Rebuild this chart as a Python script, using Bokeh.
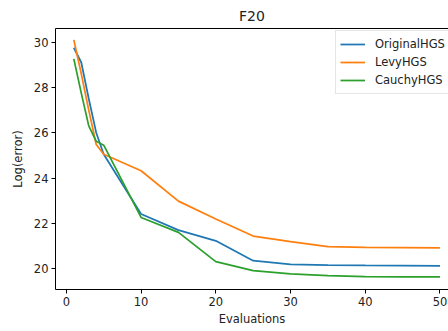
from bokeh.plotting import figure
from bokeh.models import LinearAxis, Range1d, FixedTicker, Legend, LegendItem
from bokeh.embed import file_html
from bokeh.resources import INLINE

# Convergence of the three HGS variants on F20
evaluations = [1, 2, 3, 4, 5, 10, 15, 20, 25, 30, 35, 40, 45, 50]
original_hgs = [29.75, 29.1, 27.5, 26.0, 25.05, 22.41, 21.70, 21.23, 20.35, 20.19, 20.16, 20.14, 20.13, 20.12]
levy_hgs = [30.1, 28.6, 27.0, 25.48, 25.05, 24.32, 22.98, 22.19, 21.44, 21.19, 20.97, 20.94, 20.93, 20.92]
cauchy_hgs = [29.26, 27.75, 26.3, 25.62, 25.45, 22.26, 21.60, 20.31, 19.91, 19.77, 19.69, 19.65, 19.64, 19.64]

x_ticks = [0, 10, 20, 30, 40, 50]
y_ticks = [20, 22, 24, 26, 28, 30]

FONT = "DejaVu Sans"
TEXT = "#222222"

p = figure(width=448, height=331, output_backend="svg", toolbar_location=None,
           x_range=Range1d(-1.45, 51.14), y_range=Range1d(19.08, 30.6),
           min_border_left=55, min_border_right=0, min_border_top=28, min_border_bottom=42,
           title="F20")
p.title.align = "center"
p.title.text_font = FONT
p.title.text_font_size = "14px"
p.title.text_font_style = "normal"
p.title.text_color = TEXT
p.title.offset = 3
p.outline_line_color = None
p.grid.visible = False
p.background_fill_color = "white"
p.border_fill_color = "white"

for ax in (p.xaxis[0], p.yaxis[0]):
    ax.axis_line_color = "black"
    ax.axis_line_width = 1
    ax.major_tick_out = 4
    ax.major_tick_in = 0
    ax.minor_tick_line_color = None
    ax.major_label_text_font = FONT
    ax.major_label_text_font_size = "11.5px"
    ax.major_label_text_color = TEXT
    ax.axis_label_text_font = FONT
    ax.axis_label_text_font_size = "11.5px"
    ax.axis_label_text_font_style = "normal"
    ax.axis_label_text_color = TEXT
    ax.major_label_standoff = 3

p.xaxis[0].ticker = FixedTicker(ticks=x_ticks)
p.yaxis[0].ticker = FixedTicker(ticks=y_ticks)
p.xaxis[0].axis_label = "Evaluations"
p.yaxis[0].axis_label = "Log(error)"
p.xaxis[0].axis_label_standoff = 3
p.yaxis[0].axis_label_standoff = 6

# top spine
top = LinearAxis(ticker=FixedTicker(ticks=[]), axis_line_color="black",
                 major_tick_line_color=None, minor_tick_line_color=None,
                 major_label_text_font_size="0px")
p.add_layout(top, "above")

r1 = p.line(evaluations, original_hgs, line_color="#1f77b4", line_width=1.75)
r2 = p.line(evaluations, levy_hgs, line_color="#ff7f0e", line_width=1.75)
r3 = p.line(evaluations, cauchy_hgs, line_color="#2ca02c", line_width=1.75)

legend = Legend(items=[LegendItem(label="OriginalHGS", renderers=[r1]),
                       LegendItem(label="LevyHGS", renderers=[r2]),
                       LegendItem(label="CauchyHGS", renderers=[r3])],
                location=(280, 195), margin=0, padding=4, spacing=0,
                glyph_width=25, glyph_height=18, label_height=18,
                label_text_font=FONT, label_text_font_size="11.5px",
                label_text_color=TEXT, label_standoff=10,
                border_line_color="#cccccc", border_line_width=1,
                background_fill_color="white", background_fill_alpha=0.8)
p.add_layout(legend)

open("out.html", "w").write(file_html(p, INLINE))
